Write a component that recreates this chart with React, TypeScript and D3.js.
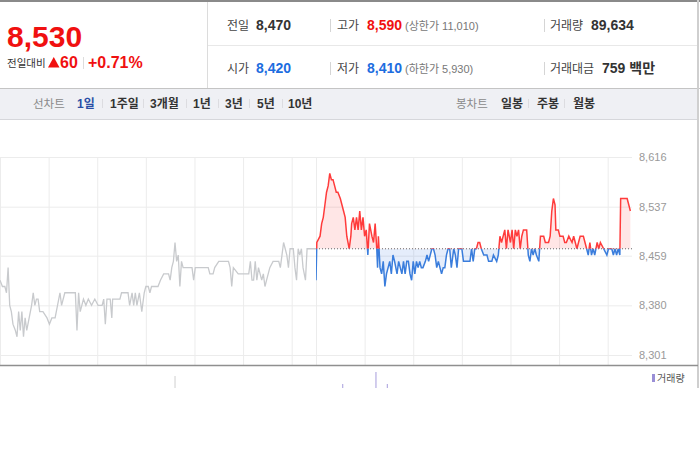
import React from "react";
import * as d3 from "d3";

// ---------- data ----------
const prevClose = 8470;
const yTickValues = [8616, 8537, 8459, 8380, 8301];

// previous session (minutes from 09:00)
const prevMinutes = [0, 3, 6, 8, 10, 12, 14, 16, 19, 21, 23, 25, 27, 29, 31, 33, 36, 39, 41, 43, 45, 47, 49, 53, 58, 61, 64, 68, 71, 74, 76, 80, 84, 93, 95, 97, 99, 103, 106, 109, 113, 117, 121, 126, 128, 130, 132, 136, 138, 139, 148, 150, 158, 160, 163, 165, 167, 169, 172, 175, 178, 180, 183, 185, 187, 195, 198, 202, 208, 210, 212, 214, 216, 218, 220, 222, 224, 226, 237, 239, 241, 257, 259, 263, 265, 270, 282, 284, 286, 288, 294, 307, 309, 311, 313, 315, 317, 319, 323, 325, 327, 329, 333, 337, 344, 346, 348, 350, 352, 354, 356, 358, 362, 364, 366, 368, 370, 372, 374, 377, 379, 389, 390];
const prevPrices = [8420, 8410, 8410, 8400, 8440, 8380, 8370, 8350, 8340, 8330, 8370, 8340, 8370, 8330, 8360, 8340, 8360, 8380, 8400, 8380, 8390, 8390, 8370, 8370, 8360, 8350, 8360, 8360, 8380, 8400, 8380, 8400, 8400, 8400, 8340, 8400, 8370, 8390, 8380, 8390, 8380, 8390, 8380, 8380, 8390, 8350, 8390, 8390, 8360, 8390, 8390, 8400, 8400, 8380, 8400, 8380, 8400, 8380, 8400, 8370, 8400, 8410, 8410, 8400, 8410, 8410, 8420, 8430, 8430, 8420, 8440, 8450, 8480, 8450, 8460, 8410, 8450, 8440, 8440, 8420, 8440, 8440, 8430, 8430, 8440, 8450, 8450, 8440, 8410, 8440, 8430, 8430, 8450, 8420, 8420, 8450, 8420, 8440, 8420, 8430, 8410, 8420, 8440, 8450, 8450, 8440, 8460, 8480, 8470, 8460, 8440, 8470, 8470, 8440, 8420, 8470, 8460, 8470, 8440, 8420, 8470, 8470, 8470];

// today's session (minutes from 09:00)
const todayMinutes = [0, 1, 5, 7, 9, 11, 13, 15, 17, 19, 21, 23, 25, 27, 30, 32, 34, 36, 38, 41, 43, 44, 46, 48, 50, 52, 54, 56, 58, 60, 62, 64, 66, 69, 71, 73, 75, 76, 77, 79, 81, 83, 85, 87, 89, 91, 93, 95, 97, 100, 102, 104, 106, 108, 110, 112, 114, 116, 118, 120, 122, 124, 126, 128, 130, 132, 135, 137, 139, 141, 143, 145, 147, 149, 151, 153, 155, 157, 159, 161, 163, 165, 167, 170, 172, 174, 176, 180, 182, 190, 192, 194, 196, 198, 200, 202, 204, 207, 211, 213, 217, 219, 223, 225, 227, 229, 233, 235, 237, 240, 242, 244, 246, 248, 250, 252, 254, 256, 260, 262, 264, 266, 268, 270, 272, 275, 277, 281, 283, 287, 289, 291, 293, 295, 296, 299, 301, 305, 307, 309, 312, 316, 318, 320, 322, 324, 326, 330, 332, 334, 336, 338, 340, 342, 344, 347, 349, 351, 355, 359, 361, 365, 367, 369, 371, 373, 375, 376, 384, 386, 388];
const todayPrices = [8420, 8480, 8490, 8510, 8520, 8540, 8560, 8570, 8590, 8580, 8580, 8570, 8560, 8560, 8550, 8540, 8530, 8520, 8490, 8470, 8490, 8510, 8520, 8500, 8520, 8500, 8530, 8500, 8520, 8490, 8500, 8460, 8510, 8490, 8480, 8510, 8470, 8440, 8490, 8440, 8430, 8450, 8410, 8430, 8440, 8450, 8430, 8460, 8450, 8430, 8450, 8440, 8430, 8450, 8430, 8450, 8450, 8430, 8420, 8450, 8430, 8450, 8440, 8450, 8440, 8440, 8450, 8460, 8450, 8460, 8470, 8470, 8460, 8440, 8450, 8440, 8430, 8440, 8440, 8460, 8470, 8470, 8440, 8470, 8460, 8440, 8470, 8470, 8450, 8450, 8470, 8450, 8470, 8470, 8480, 8480, 8470, 8460, 8460, 8450, 8450, 8460, 8450, 8460, 8490, 8480, 8500, 8470, 8500, 8480, 8500, 8470, 8500, 8490, 8500, 8470, 8490, 8500, 8500, 8460, 8450, 8470, 8460, 8470, 8460, 8450, 8490, 8490, 8480, 8480, 8490, 8530, 8550, 8540, 8500, 8500, 8490, 8490, 8480, 8480, 8490, 8480, 8490, 8480, 8470, 8480, 8490, 8490, 8480, 8470, 8460, 8480, 8460, 8470, 8460, 8480, 8470, 8480, 8470, 8460, 8470, 8470, 8460, 8470, 8460, 8470, 8460, 8550, 8550, 8540, 8530];

// volume (minute on combined 2-day axis, relative value)
const volMinutes = [216, 423, 464, 478];
const volValues = [7500, 2500, 10000, 2500];
const volToday = [false, true, true, true];

// header texts
const lastPrice = "8,530";
const changeAbs = "60";
const changePct = "+0.71%";
const infoRow1 = [
  { label: "전일", value: "8,470", color: "#333" },
  { label: "고가", value: "8,590", color: "#f01010", note: "(상한가 11,010)" },
  { label: "거래량", value: "89,634", color: "#333" },
];
const infoRow2 = [
  { label: "시가", value: "8,420", color: "#1d6de0" },
  { label: "저가", value: "8,410", color: "#1d6de0", note: "(하한가 5,930)" },
  { label: "거래대금", value: "759 백만", color: "#333" },
];
const lineTabs = ["1일", "1주일", "3개월", "1년", "3년", "5년", "10년"];
const candleTabs = ["일봉", "주봉", "월봉"];

const FONT = "'Liberation Sans', Arial, 'Noto Sans CJK KR', sans-serif";
const RED = "#f01010";

export default function App() {
  const W = 700;
  const H = 450;
  const plotRight = 632;
  const gridTop = 157;
  const axisY = 365;

  const x = d3.scaleLinear().domain([0, 780]).range([0, plotRight]);
  const y = d3.scaleLinear().domain([8301, 8616]).range([355, 157]);
  const yVol = d3.scaleLinear().domain([0, 10000]).range([388, 372]);
  const baseY = y(prevClose);

  const prevData = prevMinutes.map((m, i) => [m, prevPrices[i]] as [number, number]);
  const todayData = todayMinutes.map((m, i) => [390 + m, todayPrices[i]] as [number, number]);

  const line = d3
    .line<[number, number]>()
    .x((d) => x(d[0]))
    .y((d) => y(d[1]));
  const area = d3
    .area<[number, number]>()
    .x((d) => x(d[0]))
    .y0(baseY)
    .y1((d) => y(d[1]));

  const vGrid = [...d3.range(0, 391, 60), ...d3.range(390, 780, 60)];

  const lineTabX = [77, 110, 150, 193, 225, 257, 288];
  const lineSepX = [102, 143, 186, 218, 249, 282];
  const candleTabX = [501, 537, 573];
  const candleSepX = [528, 564];

  return (
    <svg
      width={W}
      height={H}
      style={{ position: "absolute", left: 0, top: 0, background: "#fff" }}
      fontFamily={FONT}
    >
      <defs>
        <clipPath id="above">
          <rect x={x(390)} y={0} width={plotRight - x(390)} height={baseY} />
        </clipPath>
        <clipPath id="below">
          <rect x={x(390)} y={baseY} width={plotRight - x(390)} height={axisY - baseY} />
        </clipPath>
      </defs>

      {/* ---------- header ---------- */}
      <rect x={0} y={0} width={W} height={2} fill="#8a8a8a" />
      <line x1={207.5} x2={207.5} y1={2} y2={88} stroke="#dcdcdc" />
      <line x1={208} x2={697} y1={45.5} y2={45.5} stroke="#e8e8e8" />
      <line x1={0} x2={W} y1={88.5} y2={88.5} stroke="#c4c4c4" />
      <rect x={0} y={89} width={697} height={30} fill="#eff0f4" />
      <line x1={0} x2={697} y1={119.5} y2={119.5} stroke="#d6d7db" />
      <line x1={698} x2={698} y1={0} y2={388} stroke="#cfcfcf" strokeWidth={2} />

      <text x={7} y={47} fontSize={30} fontWeight="bold" fill={RED}>
        {lastPrice}
      </text>
      <text x={7} y={67} fontSize={10.5} fill="#333">
        전일대비
      </text>
      <polygon points="48,67.5 59.5,67.5 53.75,57" fill={RED} />
      <text x={60} y={68} fontSize={16} fontWeight="bold" fill={RED}>
        {changeAbs}
      </text>
      <line x1={83.5} x2={83.5} y1={57} y2={69} stroke="#ddd" />
      <text x={88} y={68} fontSize={16} fontWeight="bold" fill={RED}>
        {changePct}
      </text>

      {[infoRow1, infoRow2].map((row, r) => {
        const by = r === 0 ? 30 : 73;
        const cols = [
          { lx: 227, vx: 256, sep: null as number | null },
          { lx: 337, vx: 367, sep: 330.5 },
          { lx: 550, vx: r === 0 ? 591 : 602, sep: 544.5 },
        ];
        return (
          <g key={r}>
            {row.map((c, i) => (
              <g key={i}>
                {cols[i].sep !== null && (
                  <line
                    x1={cols[i].sep as number}
                    x2={cols[i].sep as number}
                    y1={by - 11}
                    y2={by + 2}
                    stroke="#d5d5d5"
                  />
                )}
                <text x={cols[i].lx} y={by} fontSize={12} fill="#444">
                  {c.label}
                </text>
                <text x={cols[i].vx} y={by} fontSize={14} fontWeight="bold" fill={c.color}>
                  {c.value}
                </text>
                {c.note && (
                  <text x={405} y={by} fontSize={11} fill="#777">
                    {c.note}
                  </text>
                )}
              </g>
            ))}
          </g>
        );
      })}

      {/* ---------- tabs ---------- */}
      <text x={33} y={108} fontSize={11.5} fill="#8a8a8a">
        선차트
      </text>
      {lineTabs.map((t, i) => (
        <text
          key={t}
          x={lineTabX[i]}
          y={108}
          fontSize={12}
          fontWeight="bold"
          fill={i === 0 ? "#2a4ea6" : "#333"}
        >
          {t}
        </text>
      ))}
      {lineSepX.map((s) => (
        <line key={s} x1={s + 0.5} x2={s + 0.5} y1={99} y2={108} stroke="#dcdce0" />
      ))}
      <text x={456} y={108} fontSize={11.5} fill="#8a8a8a">
        봉차트
      </text>
      {candleTabs.map((t, i) => (
        <text key={t} x={candleTabX[i]} y={108} fontSize={12} fontWeight="bold" fill="#333">
          {t}
        </text>
      ))}
      {candleSepX.map((s) => (
        <line key={s} x1={s + 0.5} x2={s + 0.5} y1={99} y2={108} stroke="#dcdce0" />
      ))}

      {/* ---------- grid ---------- */}
      {vGrid.map((m) => (
        <line
          key={m}
          x1={x(m) + 0.5}
          x2={x(m) + 0.5}
          y1={gridTop}
          y2={axisY}
          stroke="#ececec"
        />
      ))}
      {yTickValues.map((v) => (
        <g key={v}>
          <line x1={0} x2={plotRight} y1={y(v) + 0.5} y2={y(v) + 0.5} stroke="#ececec" />
          <text x={639} y={y(v)} dy="0.35em" fontSize={11} fill="#999">
            {d3.format(",")(v)}
          </text>
        </g>
      ))}

      {/* ---------- previous session ---------- */}
      <path d={line(prevData) || ""} fill="none" stroke="#c8cacd" strokeWidth={1.3} />

      {/* ---------- today ---------- */}
      <path d={area(todayData) || ""} fill="rgba(255,60,60,0.13)" clipPath="url(#above)" />
      <path d={area(todayData) || ""} fill="rgba(40,110,220,0.12)" clipPath="url(#below)" />
      <line
        x1={x(390)}
        x2={plotRight}
        y1={baseY}
        y2={baseY}
        stroke="#666"
        strokeWidth={1}
        strokeDasharray="1,2"
      />
      <path
        d={line(todayData) || ""}
        fill="none"
        stroke="#ff3b3b"
        strokeWidth={1.5}
        clipPath="url(#above)"
      />
      <path
        d={line(todayData) || ""}
        fill="none"
        stroke="#3a7ddc"
        strokeWidth={1.5}
        clipPath="url(#below)"
      />

      {/* ---------- axis line ---------- */}
      <line x1={0} x2={698} y1={axisY + 0.5} y2={axisY + 0.5} stroke="#8f8f8f" strokeWidth={1.5} />

      {/* ---------- volume ---------- */}
      {volMinutes.map((m, i) => (
        <rect
          key={m}
          x={x(m) - 0.5}
          y={yVol(volValues[i])}
          width={1}
          height={388 - yVol(volValues[i])}
          fill={volToday[i] ? "#a79ddc" : "#cfcfcf"}
        />
      ))}
      <rect x={652} y={374} width={3} height={8} fill="#9a8fd6" />
      <text x={657} y={382} fontSize={10} fill="#555">
        거래량
      </text>
    </svg>
  );
}
